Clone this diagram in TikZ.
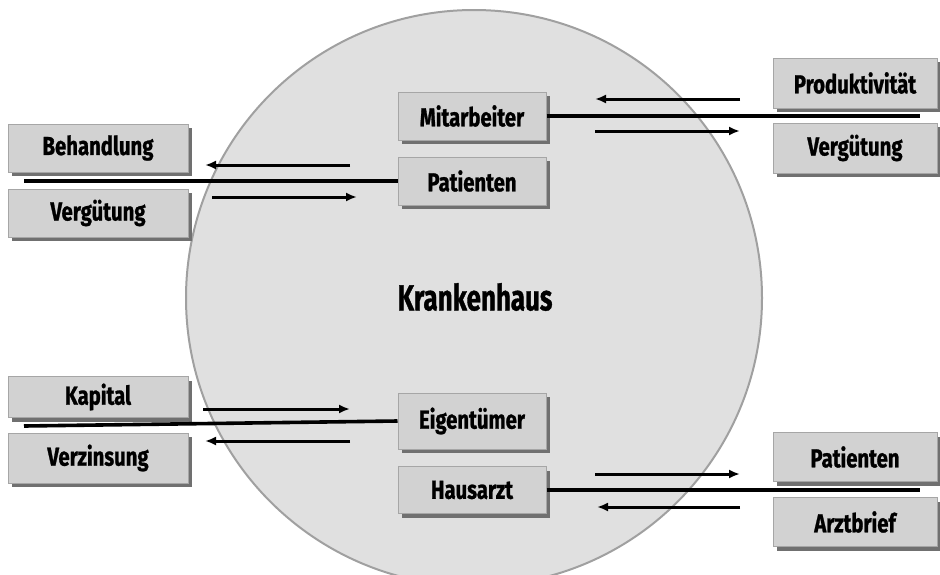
\documentclass[tikz,border=0pt]{standalone}
\usepackage{fontspec}
\setmainfont{Fira Sans}[FakeStretch=0.78, BoldFeatures={FakeBold=1}]
\newfontfamily\headfont{Fira Sans}[FakeStretch=0.72, BoldFeatures={FakeBold=1}]
\usetikzlibrary{shadows,arrows.meta}
\definecolor{discfill}{HTML}{E0E0E0}
\definecolor{discline}{HTML}{A0A0A0}
\definecolor{boxfill}{HTML}{D2D2D2}
\definecolor{boxline}{HTML}{A6A6A6}
\definecolor{boxshadow}{HTML}{707070}
\begin{document}
\begin{tikzpicture}[x=1pt,y=-1pt,
  lbox/.style={draw=boxline, fill=boxfill, line width=1pt,
    minimum height=48pt, inner sep=0pt,
    font=\fontsize{26}{28}\selectfont\bfseries,
    drop shadow={shadow xshift=4pt, shadow yshift=-4pt, fill=boxshadow, opacity=1}},
  inbox/.style={lbox, minimum width=148pt},
  sidebox/.style={lbox, minimum width=180pt},
  rbox/.style={lbox, minimum width=164pt},
  link/.style={line width=3.6pt, black},
  flow/.style={line width=3pt, black, -{Latex[length=11pt,width=9pt]}}]
\useasboundingbox (0,0) rectangle (940,574);
\begin{scope}
\clip (0,0) rectangle (940,574);
% the hospital
\node[circle, draw=discline, fill=discfill, line width=2pt, minimum size=576pt, inner sep=0pt] (disc) at (474,298) {};
\end{scope}
\node[font=\headfont\fontsize{36}{40}\selectfont\bfseries] (kh) at (475,297) {Krankenhaus};

% inner stakeholders
\node[inbox] (mit) at (472,116) {Mitarbeiter};
\node[inbox] (pat) at (472,181) {Patienten};
\node[inbox, minimum height=56pt] (eig) at (472,421) {Eigentümer};
\node[inbox, minimum height=47pt] (haus) at (472,490) {Hausarzt};

% exchanged goods, left side
\node[sidebox] (beh) at (98,148) {Behandlung};
\node[sidebox] (vgl) at (98,213) {Vergütung};
\node[sidebox, minimum height=41pt] (kap) at (98,397) {Kapital};
\node[sidebox, minimum height=50pt] (vzs) at (98,458) {Verzinsung};

% exchanged goods, right side
\node[rbox, minimum height=50pt] (prod) at (855,83) {Produktivität};
\node[rbox, minimum height=50pt] (vgr) at (855,148) {Vergütung};
\node[rbox, minimum height=49pt] (patr) at (855,457) {Patienten};
\node[rbox, minimum height=49pt] (arzt) at (855,522) {Arztbrief};

% separator lines
\coordinate (mitEnd) at (920,116);
\coordinate (patEnd) at (24,181);
\coordinate (eigEnd) at (24,426);
\coordinate (hausEnd) at (920,490);
\draw[link] (mit.east) -- (mitEnd);
\draw[link] (pat.west) -- (patEnd);
\draw[link] (eig.west) -- (eigEnd);
\draw[link] (haus.east) -- (hausEnd);

% flows
\coordinate (a1s) at (740,99);  \coordinate (a1e) at (595,99);
\coordinate (a2s) at (595,131); \coordinate (a2e) at (740,131);
\coordinate (a3s) at (350,165); \coordinate (a3e) at (205,165);
\coordinate (a4s) at (212,197); \coordinate (a4e) at (357,197);
\coordinate (a5s) at (203,409); \coordinate (a5e) at (350,409);
\coordinate (a6s) at (350,441); \coordinate (a6e) at (205,441);
\coordinate (a7s) at (595,474); \coordinate (a7e) at (740,474);
\coordinate (a8s) at (740,507); \coordinate (a8e) at (597,507);
\foreach \i in {1,...,8} \draw[flow] (a\i s) -- (a\i e);
\end{tikzpicture}
\end{document}
